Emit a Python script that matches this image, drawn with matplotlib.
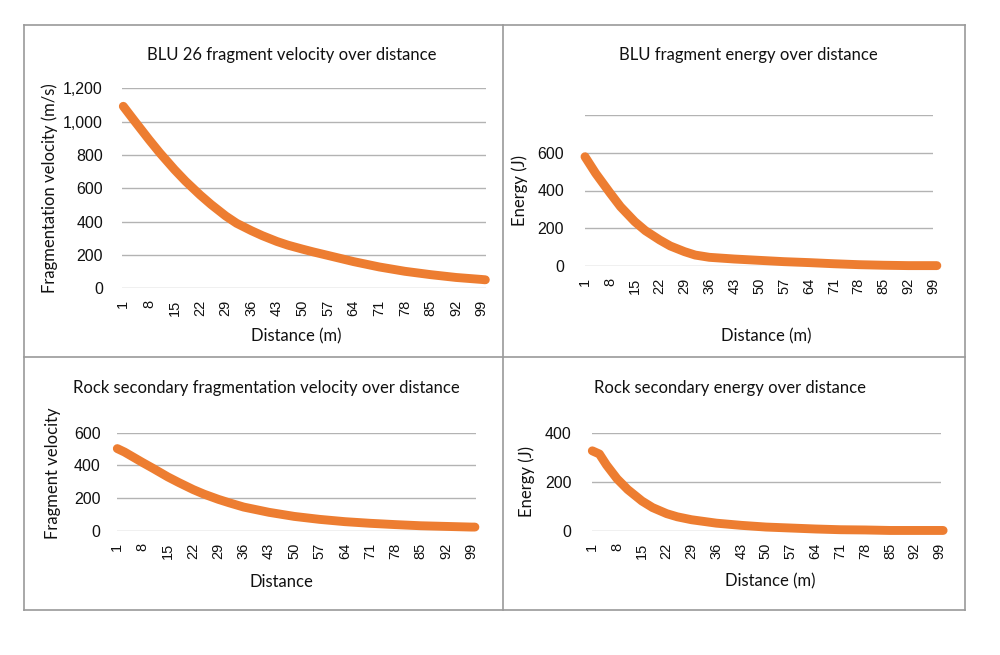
import matplotlib
matplotlib.use("Agg")
import matplotlib.pyplot as plt
from matplotlib.lines import Line2D

dist_blu_v = [1, 4, 8, 11, 15, 18, 22, 25, 29, 32, 36, 39, 43, 46, 50, 53, 57, 64, 71, 78,
              85, 92, 99, 100]
blu_velocity = [1092, 1006, 893, 812, 712, 643, 560, 503, 434, 390, 346, 316, 281, 259, 235,
                218, 197, 160, 128, 102, 82, 65, 53, 51]

dist_blu_e = [1, 4, 8, 11, 15, 18, 22, 25, 29, 32, 36, 43, 50, 57, 64, 71, 78, 85, 92, 99, 100]
blu_energy = [579, 491, 388, 314, 235, 187, 138, 106, 76, 58, 46, 37, 30, 23, 18, 12, 7, 4, 2,
              2, 2]

dist_rock_v = [1, 3, 8, 11, 15, 18, 22, 25, 29, 32, 36, 43, 50, 57, 64, 71, 78, 85, 92, 99, 100]
rock_velocity = [503, 482, 418, 381, 330, 296, 253, 225, 193, 172, 146, 114, 89, 71, 57, 47, 39,
                 32, 28, 24, 24]

dist_rock_e = [1, 3, 5, 8, 11, 15, 18, 22, 25, 29, 36, 43, 50, 57, 64, 71, 78, 85, 92, 99, 100]
rock_energy = [328, 315, 270, 213, 169, 122, 95, 70, 57, 45, 31, 22, 15, 11, 7, 4, 3, 1, 1, 1, 1]

xtick_labels = list(range(1, 100, 7))

ORANGE = "#ED7D31"
GRID = "#b3b3b3"
TXT = "#111111"
W, H = 1000, 655

fig = plt.figure(figsize=(10, 6.55), dpi=100)


def fx(x):
    return x / W


def fy(y):
    return 1 - y / H


def panel(left, right, top, bottom, x, y, xlim, ylim, yticks, ylabels, ypad):
    ax = fig.add_axes([fx(left), fy(bottom), (right - left) / W, (bottom - top) / H])
    ax.plot(x, y, color=ORANGE, lw=6.4, solid_capstyle="round", solid_joinstyle="round",
            clip_on=False, zorder=3)
    ax.set_xlim(*xlim)
    ax.set_ylim(*ylim)
    ax.set_yticks(yticks)
    ax.set_yticklabels(ylabels, fontsize=11.5, family="Liberation Sans", color=TXT)
    ax.set_xticks(xtick_labels)
    ax.set_xticklabels([str(v) for v in xtick_labels], rotation=90, fontsize=10.5,
                       family="Liberation Sans", color=TXT)
    ax.tick_params(axis="y", length=0, pad=ypad)
    ax.tick_params(axis="x", length=0, pad=8.5)
    ax.grid(axis="y", color=GRID, lw=1)
    ax.set_axisbelow(True)
    for s in ax.spines.values():
        s.set_visible(False)
    return ax


panel(121.7, 485.7, 88.3, 288.3, dist_blu_v, blu_velocity, (0.56, 100.1), (0, 1200),
      [0, 200, 400, 600, 800, 1000, 1200],
      ["0", "200", "400", "600", "800", "1,000", "1,200"], 13.5)
panel(585, 933.3, 115, 266, dist_blu_e, blu_energy, (1, 98.3), (0, 800),
      [0, 200, 400, 600, 800], ["0", "200", "400", "600", ""], 15)
panel(117.3, 476, 432.7, 531, dist_rock_v, rock_velocity, (1.5, 100.3), (0, 600),
      [0, 200, 400, 600], ["0", "200", "400", "600"], 12)
panel(592.3, 941, 433.3, 530.7, dist_rock_e, rock_energy, (1.4, 99.4), (0, 400),
      [0, 200, 400], ["0", "200", "400"], 15)

# titles and axis labels
tfont = dict(family="Lato", color=TXT, fontsize=12)
fig.text(fx(292), fy(55), "BLU 26 fragment velocity over distance", ha="center", va="center",
         **tfont)
fig.text(fx(748.5), fy(55), "BLU fragment energy over distance", ha="center", va="center",
         **tfont)
fig.text(fx(266), fy(388), "Rock secondary fragmentation velocity over distance", ha="center",
         va="center", **tfont)
fig.text(fx(730), fy(388), "Rock secondary energy over distance", ha="center", va="center",
         **tfont)

fig.text(fx(296), fy(336), "Distance (m)", ha="center", va="center", **tfont)
fig.text(fx(766.7), fy(336), "Distance (m)", ha="center", va="center", **tfont)
fig.text(fx(281), fy(581.7), "Distance", ha="center", va="center", **tfont)
fig.text(fx(770), fy(581.7), "Distance (m)", ha="center", va="center", **tfont)

fig.text(fx(49.3), fy(188), "Fragmentation velocity (m/s)", rotation=90, ha="center",
         va="center", **tfont)
fig.text(fx(519.3), fy(190), "Energy (J)", rotation=90, ha="center", va="center", **tfont)
fig.text(fx(53.3), fy(473), "Fragment velocity", rotation=90, ha="center", va="center", **tfont)
fig.text(fx(527), fy(481.7), "Energy (J)", rotation=90, ha="center", va="center", **tfont)

# panel frames
frame = dict(color="#9a9a9a", lw=1.2, transform=fig.transFigure)
for (x0, y0, x1, y1) in [(23.5, 24.5, 964.7, 24.5), (23.5, 610.3, 964.7, 610.3),
                         (23.5, 24.5, 23.5, 610.3), (964.7, 24.5, 964.7, 610.3),
                         (502.7, 24.5, 502.7, 610.3), (23.5, 357.3, 964.7, 357.3)]:
    fig.add_artist(Line2D([fx(x0), fx(x1)], [fy(y0), fy(y1)], **frame))

fig.savefig("out.png", dpi=100)
